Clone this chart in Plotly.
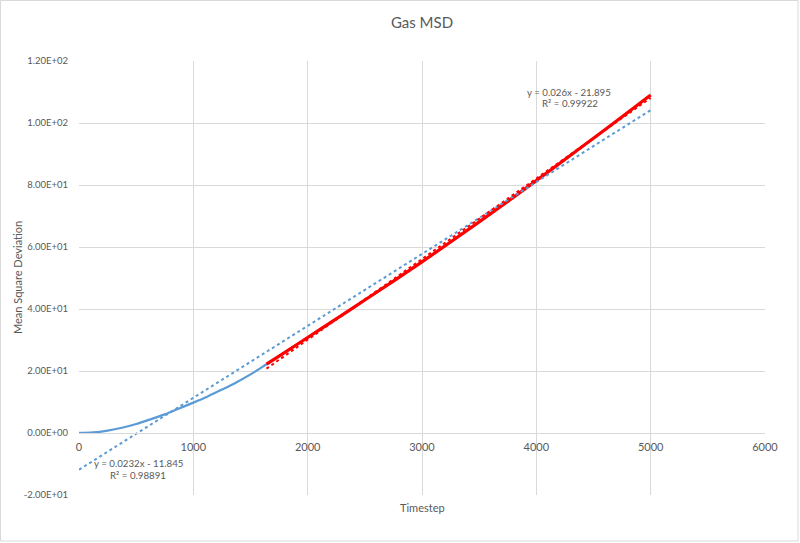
import plotly.graph_objects as go

# ---------------- data ----------------
timestep = [0, 125, 250, 375, 500, 625, 750, 875, 1000, 1125, 1250, 1375, 1500,
            1640, 1750, 2000, 2250, 2500, 2750, 3000, 3250, 3500, 3750, 4000,
            4250, 4500, 4750, 5000]
msd = [0.0, 0.2, 0.8, 1.7, 2.9, 4.4, 6.0, 7.9, 9.8, 11.8, 14.0, 16.3, 18.9,
       22.2, 24.8, 30.8, 36.8, 42.9, 49.0, 55.2, 61.6, 68.1, 74.7, 81.4,
       88.2, 95.1, 102.0, 109.0]
red_start = 1640  # the red series is the tail of the data from this timestep

# trendlines as displayed in the chart
blue_fit = {"slope": 0.0232, "intercept": -11.845, "r2": "0.98891", "x": [0, 5000]}
red_fit = {"slope": 0.026, "intercept": -21.895, "r2": "0.99922", "x": [1640, 5000]}

x_ticks = [0, 1000, 2000, 3000, 4000, 5000, 6000]
y_ticks = [-20, 0, 20, 40, 60, 80, 100, 120]
y_tick_labels = ["-2.00E+01", "0.00E+00", "2.00E+01", "4.00E+01", "6.00E+01",
                 "8.00E+01", "1.00E+02", "1.20E+02"]

title = "Gas MSD"
x_title = "Timestep"
y_title = "Mean Square Deviation"

# ---------------- styles ----------------
BLUE = "#5B9BD5"
RED = "#FF0000"
GRID = "#D9D9D9"
TXT = "#595959"
FONT = "Lato, Carlito, Calibri, sans-serif"

W, H = 800, 543
ML, MR, MT, MB = 79, 35, 61, 48
PW, PH = W - ML - MR, H - MT - MB

red_x = [t for t in timestep if t >= red_start]
red_y = [m for t, m in zip(timestep, msd) if t >= red_start]


def line_y(fit):
    return [fit["slope"] * x + fit["intercept"] for x in fit["x"]]


fig = go.Figure()
fig.add_trace(go.Scatter(x=timestep, y=msd, mode="lines", line_shape="spline",
                         line=dict(color=BLUE, width=2.25), showlegend=False))
fig.add_trace(go.Scatter(x=red_x, y=red_y, mode="lines", line_shape="spline",
                         line=dict(color=RED, width=3.2), showlegend=False))
fig.add_trace(go.Scatter(x=blue_fit["x"], y=line_y(blue_fit), mode="lines",
                         line=dict(color=BLUE, width=2, dash="dot"), showlegend=False))
fig.add_trace(go.Scatter(x=red_fit["x"], y=line_y(red_fit), mode="lines",
                         line=dict(color=RED, width=2, dash="dot"), showlegend=False))


def fit_text(fit):
    sign = "-" if fit["intercept"] < 0 else "+"
    return f"y = {fit['slope']:g}x {sign} {abs(fit['intercept']):g}"


def px_to_paper_x(px):
    return (px - ML) / PW


def px_to_paper_y(py):
    return (H - MB - py) / PH


ann = []
# trendline labels
for txt, cx, cy in [(fit_text(blue_fit), 138, 463), ("R² = " + blue_fit["r2"], 138, 475),
                    (fit_text(red_fit), 569, 92), ("R² = " + red_fit["r2"], 570, 103)]:
    ann.append(dict(text=txt, x=px_to_paper_x(cx), y=px_to_paper_y(cy),
                    xref="paper", yref="paper", showarrow=False,
                    xanchor="center", yanchor="middle",
                    font=dict(family=FONT, size=9.7, color=TXT)))
# axis titles
ann.append(dict(text=x_title, x=0.5, y=px_to_paper_y(507), xref="paper", yref="paper",
                showarrow=False, xanchor="center", yanchor="middle",
                font=dict(family=FONT, size=11, color=TXT)))
ann.append(dict(text=y_title, x=px_to_paper_x(17), y=0.5, xref="paper", yref="paper",
                showarrow=False, xanchor="center", yanchor="middle", textangle=-90,
                font=dict(family=FONT, size=11, color=TXT)))

fig.update_layout(
    width=W, height=H,
    margin=dict(l=ML, r=MR, t=MT, b=MB, pad=0),
    paper_bgcolor="white", plot_bgcolor="white",
    title=dict(text=title, x=0.5, xref="paper", y=1 - 23 / H, yanchor="middle",
               xanchor="center", font=dict(family=FONT, size=15, color=TXT)),
    annotations=ann,
    xaxis=dict(range=[0, 6000], tickvals=x_ticks, showgrid=True, gridcolor=GRID,
               gridwidth=1, zeroline=False, anchor="free", position=20 / 140,
               showline=True, linecolor=GRID, linewidth=1,
               ticks="outside", ticklen=4, tickcolor="rgba(0,0,0,0)",
               tickfont=dict(family=FONT, size=11, color=TXT)),
    yaxis=dict(range=[-20, 120], tickvals=y_ticks, ticktext=y_tick_labels,
               showgrid=True, gridcolor=GRID, gridwidth=1, zeroline=False,
               ticks="outside", ticklen=8, tickcolor="rgba(0,0,0,0)",
               tickfont=dict(family=FONT, size=9.5, color=TXT)),
    shapes=[dict(type="rect", xref="paper", yref="paper",
                 x0=px_to_paper_x(0.5), x1=px_to_paper_x(798),
                 y0=px_to_paper_y(541), y1=px_to_paper_y(0.5),
                 line=dict(color=GRID, width=1), layer="below")],
)

fig.write_html("out.html")
